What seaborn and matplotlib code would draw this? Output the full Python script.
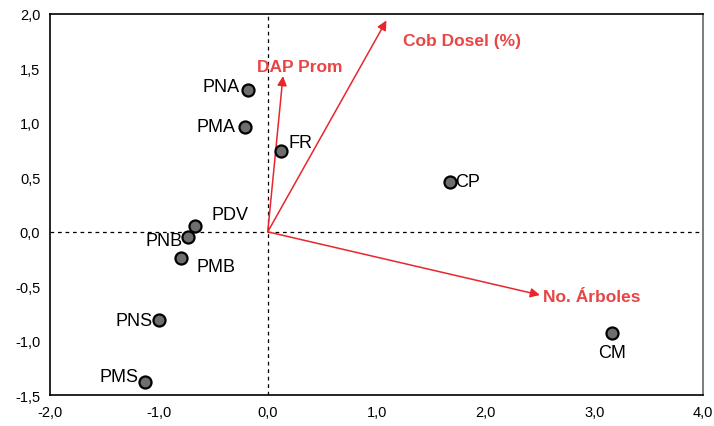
import matplotlib
matplotlib.use("Agg")
import matplotlib.pyplot as plt
import seaborn as sns
import pandas as pd

# Site scores
sites = ["PNA", "PMA", "FR", "CP", "PDV", "PNB", "PMB", "PNS", "PMS", "CM"]
site_x = [-0.18, -0.21, 0.12, 1.67, -0.67, -0.73, -0.80, -1.00, -1.13, 3.16]
site_y = [1.30, 0.96, 0.74, 0.46, 0.05, -0.05, -0.24, -0.81, -1.38, -0.93]

# Variable loadings (arrows)
variables = ["DAP Prom", "Cob Dosel (%)", "No. Árboles"]
var_x = [0.14, 1.09, 2.50]
var_y = [1.43, 1.94, -0.58]

xticks = [-2, -1, 0, 1, 2, 3, 4]
yticks = [-1.5, -1.0, -0.5, 0.0, 0.5, 1.0, 1.5, 2.0]

sns.set_style("white")
plt.rcParams["font.family"] = ["Liberation Sans", "DejaVu Sans"]

fig = plt.figure(figsize=(7.14, 4.27), dpi=100)
ax = fig.add_axes([0.070, 0.072, 0.915, 0.893])

df = pd.DataFrame({"site": sites, "x": site_x, "y": site_y})

ax.axhline(0, color="black", lw=0.9, ls=(0, (3, 3)), zorder=1)
ax.axvline(0, color="black", lw=0.9, ls=(0, (3, 3)), zorder=1)

red_line = "#E8262E"
red_text = "#E84545"
for name, vx, vy in zip(variables, var_x, var_y):
    ax.annotate("", xy=(vx, vy), xytext=(0, 0),
                arrowprops=dict(arrowstyle="-|>", color=red_line, lw=1.1,
                                mutation_scale=14, shrinkA=0, shrinkB=0),
                zorder=2)

# variable labels
var_label_pos = {"DAP Prom": (-0.1, 1.52, "left"),
                 "Cob Dosel (%)": (1.24, 1.76, "left"),
                 "No. Árboles": (2.53, -0.59, "left")}
for name in variables:
    lx, ly, ha = var_label_pos[name]
    ax.text(lx, ly, name, color=red_text, fontsize=12.5, fontweight="bold",
            ha=ha, va="center", zorder=4)

sns.scatterplot(data=df, x="x", y="y", ax=ax, s=75, color="#6e6e6e",
                edgecolor="black", linewidth=1.6, zorder=3, legend=False)

# site labels
label_pos = {
    "PNA": (-0.26, 1.33, "right"),
    "PMA": (-0.30, 0.97, "right"),
    "FR": (0.19, 0.82, "left"),
    "CP": (1.72, 0.46, "left"),
    "PDV": (-0.52, 0.16, "left"),
    "PNB": (-0.78, -0.08, "right"),
    "PMB": (-0.65, -0.32, "left"),
    "PNS": (-1.06, -0.81, "right"),
    "PMS": (-1.19, -1.33, "right"),
    "CM": (3.16, -1.11, "center"),
}
for s in sites:
    lx, ly, ha = label_pos[s]
    ax.text(lx, ly, s, fontsize=13, color="black", ha=ha, va="center", zorder=4)

ax.set_xlim(-2, 4)
ax.set_ylim(-1.5, 2.0)
ax.set_xticks(xticks)
ax.set_yticks(yticks)
ax.set_xticklabels([f"{v:.1f}".replace(".", ",") for v in xticks])
ax.set_yticklabels([f"{v:.1f}".replace(".", ",") for v in yticks])
ax.set_xlabel("")
ax.set_ylabel("")
ax.tick_params(direction="inout", length=6, width=1, labelsize=10.5,
               colors="black", pad=4)
for sp in ax.spines.values():
    sp.set_color("black")
    sp.set_linewidth(1.2)
ax.spines["right"].set_color("#666666")

fig.savefig("out.png", dpi=100)
